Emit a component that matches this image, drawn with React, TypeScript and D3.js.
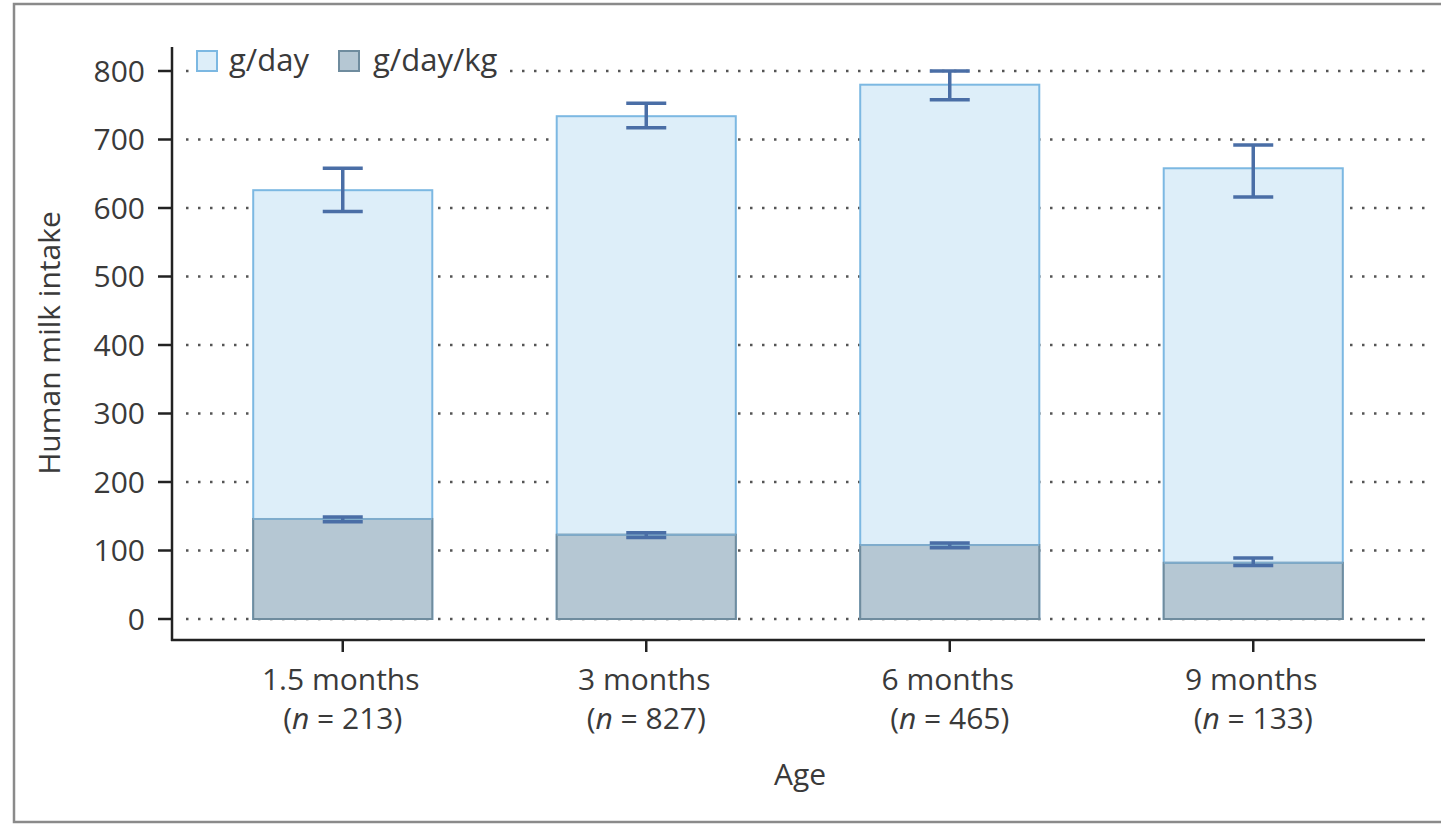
import React from "react";
import * as d3 from "d3";

const categories = ["1.5 months", "3 months", "6 months", "9 months"];
const sampleSizes = [213, 827, 465, 133];
const gDay = [626, 734, 780, 658];
const gDayLow = [595, 717, 758, 616];
const gDayHigh = [658, 753, 800, 692];
const gDayKg = [146, 123, 108, 82];
const gDayKgLow = [142, 119, 104, 78];
const gDayKgHigh = [149, 126, 111, 89];
const yTicks = [0, 100, 200, 300, 400, 500, 600, 700, 800];

const W = 1441;
const H = 826;
const FONT = "'Open Sans', 'DejaVu Sans', sans-serif";
const TXT = "#3a3a3a";
const FS = 30;

export default function App() {
  const x = d3.scaleBand<string>().domain(categories).range([191, 1405]).padding(0);
  const y = d3.scaleLinear().domain([0, 800]).range([619, 71]);
  const barW = x.step() * 0.59;
  const capW = 40;
  const smallCapW = 40;

  return (
    <svg
      width={W}
      height={H}
      style={{ position: "absolute", left: 0, top: 0, background: "#fff" }}
      fontFamily={FONT}
    >
      <rect x={14} y={4} width={W + 20} height={818} fill="#fff" stroke="#8a8a8a" strokeWidth={2.5} />

      {/* gridlines */}
      {yTicks.map((t) => (
        <line
          key={"g" + t}
          x1={186}
          x2={1425}
          y1={y(t)}
          y2={y(t)}
          stroke="#555"
          strokeWidth={2.5}
          strokeDasharray="2.5 9.5"
        />
      ))}

      {/* bars g/day */}
      {categories.map((c, i) => {
        const cx = (x(c) as number) + x.step() / 2;
        return (
          <rect
            key={"b" + c}
            x={cx - barW / 2}
            y={y(gDay[i])}
            width={barW}
            height={y(0) - y(gDay[i])}
            fill="#ddeef9"
            stroke="#7cb8e2"
            strokeWidth={2}
          />
        );
      })}
      {/* bars g/day/kg */}
      {categories.map((c, i) => {
        const cx = (x(c) as number) + x.step() / 2;
        return (
          <rect
            key={"k" + c}
            x={cx - barW / 2}
            y={y(gDayKg[i])}
            width={barW}
            height={y(0) - y(gDayKg[i])}
            fill="#b5c7d3"
            stroke="#6f8c9e"
            strokeWidth={2}
          />
        );
      })}
      {categories.map((c, i) => {
        const cx = (x(c) as number) + x.step() / 2;
        return (
          <line
            key={"kt" + c}
            x1={cx - barW / 2}
            x2={cx + barW / 2}
            y1={y(gDayKg[i])}
            y2={y(gDayKg[i])}
            stroke="#7faccc"
            strokeWidth={2}
          />
        );
      })}

      {/* error bars */}
      {categories.map((c, i) => {
        const cx = (x(c) as number) + x.step() / 2;
        return (
          <g key={"e" + c} stroke="#4a6ea6" strokeWidth={3.5}>
            <line x1={cx} x2={cx} y1={y(gDayHigh[i])} y2={y(gDayLow[i])} />
            <line x1={cx - capW / 2} x2={cx + capW / 2} y1={y(gDayHigh[i])} y2={y(gDayHigh[i])} />
            <line x1={cx - capW / 2} x2={cx + capW / 2} y1={y(gDayLow[i])} y2={y(gDayLow[i])} />
            <line x1={cx} x2={cx} y1={y(gDayKgHigh[i])} y2={y(gDayKgLow[i])} />
            <line x1={cx - smallCapW / 2} x2={cx + smallCapW / 2} y1={y(gDayKgHigh[i])} y2={y(gDayKgHigh[i])} />
            <line x1={cx - smallCapW / 2} x2={cx + smallCapW / 2} y1={y(gDayKgLow[i])} y2={y(gDayKgLow[i])} />
          </g>
        );
      })}

      {/* axes */}
      <line x1={172} x2={172} y1={47} y2={641} stroke="#222" strokeWidth={2.5} />
      <line x1={171} x2={1425} y1={640} y2={640} stroke="#222" strokeWidth={2.5} />
      {yTicks.map((t) => (
        <g key={"t" + t}>
          <line x1={158} x2={172} y1={y(t)} y2={y(t)} stroke="#222" strokeWidth={2.5} />
          <text x={145} y={y(t)} dy="0.36em" textAnchor="end" fontSize={FS} fill={TXT}>
            {t}
          </text>
        </g>
      ))}
      {categories.map((c, i) => {
        const cx = (x(c) as number) + x.step() / 2;
        return (
          <g key={"x" + c}>
            <line x1={cx} x2={cx} y1={640} y2={652} stroke="#222" strokeWidth={2.5} />
            <text x={cx - 2} y={690} textAnchor="middle" fontSize={FS} fill={TXT}>
              {c}
            </text>
            <text x={cx} y={729} textAnchor="middle" fontSize={FS} fill={TXT}>
              (<tspan fontStyle="italic">n</tspan> = {sampleSizes[i]})
            </text>
          </g>
        );
      })}

      <text x={800} y={785} textAnchor="middle" fontSize={FS} fill={TXT}>
        Age
      </text>
      <text
        transform={`translate(60,${343}) rotate(-90)`}
        textAnchor="middle"
        fontSize={FS}
        fill={TXT}
      >
        Human milk intake
      </text>

      {/* legend */}
      <rect x={192} y={45} width={318} height={36} fill="#fff" />
      <rect x={197} y={51} width={20} height={20} fill="#ddeef9" stroke="#7cb8e2" strokeWidth={2} />
      <text x={229} y={71} fontSize={31} fill={TXT}>
        g/day
      </text>
      <rect x={339} y={51} width={20} height={20} fill="#b5c7d3" stroke="#6f8c9e" strokeWidth={2} />
      <text x={373} y={71} fontSize={31} fill={TXT}>
        g/day/kg
      </text>
    </svg>
  );
}
